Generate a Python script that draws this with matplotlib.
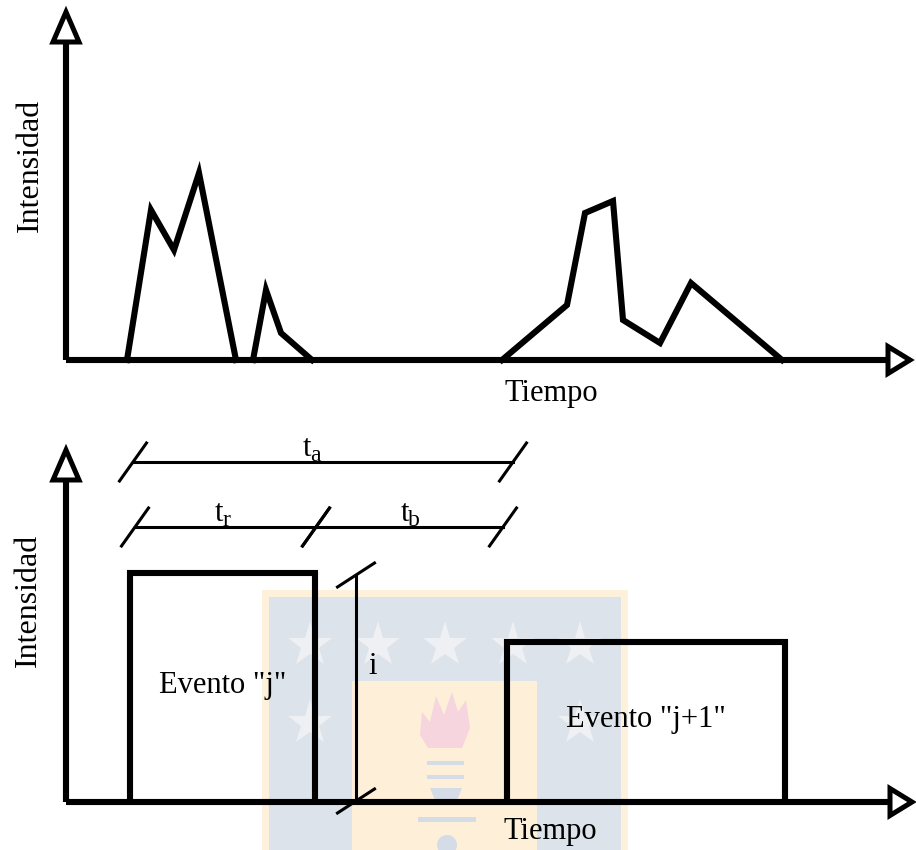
import numpy as np
import matplotlib.pyplot as plt
from matplotlib.patches import Polygon, Rectangle, Circle
from matplotlib.transforms import Affine2D

plt.rcParams['font.family'] = ['Liberation Serif', 'DejaVu Serif']

W, H = 916, 850

# --- top panel: intensity bursts (time, intensity)
burst_t = [
    [6.1, 8.5, 10.8, 13.3, 17.0],
    [18.7, 20.0, 21.5, 24.6],
    [43.6, 50.1, 51.9, 54.7, 55.7, 59.4, 62.5, 71.6],
]
burst_i = [
    [0, 15.0, 11.0, 18.7, 0],
    [0, 7.0, 2.7, 0],
    [0, 5.5, 14.7, 15.9, 4.0, 1.7, 7.7, 0],
]

# --- bottom panel: rectangular events
ev_start = [6.4, 44.1]
ev_end = [24.9, 71.9]
ev_int = [22.9, 16.0]
ev_labels = ['Evento "j"', 'Evento "j+1"']

# dimension lines: (start, end, height, label, sub)
dims = [
    (6.7, 44.7, 34.0, 't', 'a'),
    (6.9, 25.0, 27.5, 't', 'r'),
    (25.0, 43.7, 27.5, 't', 'b'),
]
dim_label_x = [24.4, 15.6, 34.2]
i_x = 29.0
i_top = 22.7

LW = 4.4
DLW = 2.2

fig = plt.figure(figsize=(W / 100, H / 100), dpi=100)
ax_top = fig.add_axes([0, 430 / H, 1, 420 / H])
ax_bot = fig.add_axes([0, 0, 1, 430 / H])
ax_top.set_xlim(-6.6, 85.0)
ax_top.set_ylim(-6.0, 36.0)
ax_bot.set_xlim(-6.6, 85.0)
ax_bot.set_ylim(-4.8, 38.2)
for ax in (ax_top, ax_bot):
    ax.axis('off')
    ax.patch.set_alpha(0)

# pixel transform (y down) for the faint watermark
px = Affine2D().scale(1 / W, -1 / H).translate(0, 1) + fig.transFigure


def wm_rect(x0, y0, x1, y1, c):
    ax_bot.add_patch(Rectangle((x0, y0), x1 - x0, y1 - y0, transform=px,
                               facecolor=c, edgecolor='none', zorder=0, clip_on=False))


wm_rect(262, 590, 628, 850, '#fdf1dc')
wm_rect(269, 597, 621, 850, '#dde3eb')
wm_rect(352, 681, 537, 850, '#fdefd8')
for sx, sy in [(310, 645), (378, 645), (445, 645), (513, 645), (580, 645), (310, 723), (580, 723)]:
    ax_bot.plot([sx], [sy], marker='*', markersize=34, color='#eef0f3',
                markeredgewidth=0, transform=px, zorder=0.5, clip_on=False)
flame = [(420, 735), (422, 712), (430, 722), (436, 696), (444, 715), (452, 692),
         (458, 712), (466, 700), (470, 728), (462, 748), (428, 748)]
ax_bot.add_patch(Polygon(flame, closed=True, transform=px, facecolor='#f7d5de',
                         edgecolor='none', zorder=0.5, clip_on=False))
for by in (763, 777):
    wm_rect(427, by - 2, 464, by + 2, '#d4dce7')
ax_bot.add_patch(Polygon([(430, 788), (462, 788), (455, 805), (437, 805)], closed=True,
                         transform=px, facecolor='#d4dce7', edgecolor='none', zorder=0.5))
wm_rect(418, 817, 476, 822, '#d4dce7')
ax_bot.add_patch(Circle((447, 845), 10, transform=px, facecolor='#d4dce7',
                        edgecolor='none', zorder=0.5, clip_on=False))


def draw_axes(ax, ytip, xtip):
    ax.plot([0, 0], [0, ytip - 3.0], color='k', lw=LW, solid_capstyle='butt', zorder=3)
    ax.plot([0, xtip - 2.2], [0, 0], color='k', lw=LW, solid_capstyle='butt', zorder=3)
    ax.add_patch(Polygon([(0, ytip), (-1.3, ytip - 3.0), (1.3, ytip - 3.0)], closed=True,
                         facecolor='white', edgecolor='k', lw=3.6, joinstyle='miter', zorder=4))
    ax.add_patch(Polygon([(xtip, 0), (xtip - 2.2, 1.35), (xtip - 2.2, -1.35)], closed=True,
                         facecolor='white', edgecolor='k', lw=3.6, joinstyle='miter', zorder=4))


# top panel
draw_axes(ax_top, 34.8, 84.4)
for t, i in zip(burst_t, burst_i):
    ax_top.plot(t, i, color='k', lw=LW, solid_joinstyle='miter', zorder=3)
ax_top.text(-3.6, 19.5, 'Intensidad', rotation=90, ha='center', va='center', fontsize=23)
ax_top.text(48.5, -3.4, 'Tiempo', ha='center', va='center', fontsize=22)

# bottom panel
draw_axes(ax_bot, 35.2, 84.6)
for s, e, h, lab in zip(ev_start, ev_end, ev_int, ev_labels):
    ax_bot.plot([s, s, e, e], [0, h, h, 0], color='k', lw=LW,
                solid_joinstyle='miter', solid_capstyle='butt', zorder=3)
    ax_bot.text((s + e) / 2, h / 2 + 0.2, lab, ha='center', va='center', fontsize=22, zorder=5)


def slash(ax, x, y, dx, dy):
    ax.plot([x - dx, x + dx], [y - dy, y + dy], color='k', lw=DLW, zorder=3)


for (s, e, h, t, sub), lx in zip(dims, dim_label_x):
    ax_bot.plot([s, e], [h, h], color='k', lw=DLW, zorder=3)
    slash(ax_bot, s, h, 1.35, 1.9)
    slash(ax_bot, e, h, 1.35, 1.9)
    ax_bot.text(lx + 0.15, h + 0.6, t, ha='right', va='baseline', fontsize=22)
    ax_bot.text(lx, h + 0.6 - 0.5, sub, ha='left', va='baseline', fontsize=17)

ax_bot.plot([i_x, i_x], [0, i_top], color='k', lw=DLW, zorder=3)
slash(ax_bot, i_x, i_top, 1.85, 1.2)
slash(ax_bot, i_x, 0.1, 1.85, 1.2)
ax_bot.text(i_x + 1.7, 13.5, 'i', ha='center', va='center', fontsize=22)
ax_bot.text(-3.8, 20.2, 'Intensidad', rotation=90, ha='center', va='center', fontsize=23)
ax_bot.text(48.4, -3.0, 'Tiempo', ha='center', va='center', fontsize=22)

fig.savefig('out.png', dpi=100, facecolor='white')
